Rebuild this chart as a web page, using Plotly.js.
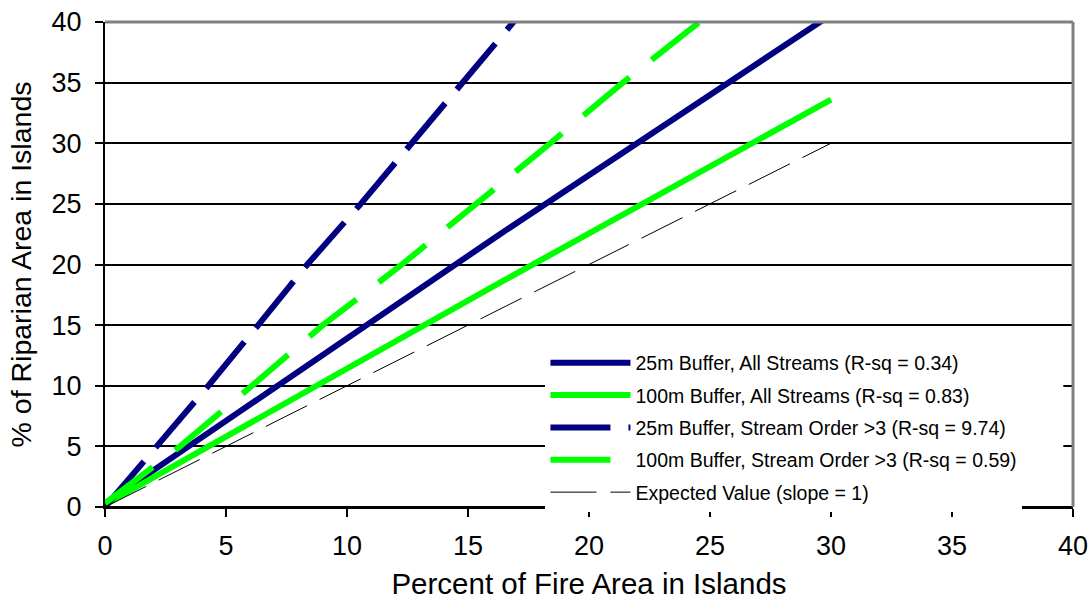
<!DOCTYPE html>
<html>
<head>
<meta charset="utf-8">
<script src="https://cdn.plot.ly/plotly-3.0.1.min.js"></script>
<style>
html,body{margin:0;padding:0;background:#fff;}
#chart{width:1092px;height:603px;}
</style>
</head>
<body>
<div id="chart"></div>
<script>
// Data
const seriesNames = [
  "25m Buffer, All Streams (R-sq = 0.34)",
  "100m Buffer, All Streams (R-sq = 0.83)",
  "25m Buffer, Stream Order >3 (R-sq = 9.74)",
  "100m Buffer, Stream Order >3 (R-sq = 0.59)",
  "Expected Value (slope = 1)"
];
const all25X = [0, 16.32, 30];
const all25Y = [0.3, 22.5, 40.6];
const all100X = [0, 16.32, 30];
const all100Y = [0.2, 18.5, 33.6];
const ord25X = [0, 2.15, 4.27, 6.33, 8.36, 10.57, 12.67, 14.8, 16.86, 17.3];
const ord25Y = [0, 5, 10, 15, 20, 25, 30, 35, 40, 41];
const ord100X = [0, 3.1, 6.07, 9.0, 12.27, 15.37, 18.4, 21.4, 24.6, 25.2];
const ord100Y = [0.3, 5, 10, 15, 20, 25, 30, 35, 40, 41];
const expX = [0, 30];
const expY = [0, 30];
const tickVals = [0, 5, 10, 15, 20, 25, 30, 35, 40];

const navy = "#000080";
const green = "#00ff00";

const traces = [
  {x: all25X, y: all25Y, name: seriesNames[0], mode: "lines", legendgroup: "a",
   line: {color: navy, width: 6}},
  {x: all100X, y: all100Y, name: seriesNames[1], mode: "lines", legendgroup: "b",
   line: {color: green, width: 6}},
  {x: ord25X, y: ord25Y, name: seriesNames[2], mode: "lines", legendgroup: "c",
   line: {color: navy, width: 6, dash: "60px,18px"}},
  {x: ord100X, y: ord100Y, name: seriesNames[3], mode: "lines", legendgroup: "d",
   line: {color: green, width: 6, dash: "60px,28px"}},
  {x: expX, y: expY, name: seriesNames[4], mode: "lines", legendgroup: "e",
   line: {color: "#000000", width: 1, dash: "46px,14px"}}
];

const layout = {
  width: 1092, height: 603,
  margin: {l: 105, r: 19, t: 22, b: 96},
  paper_bgcolor: "#ffffff",
  plot_bgcolor: "#ffffff",
  font: {family: "Arial, 'Liberation Sans', sans-serif", color: "#000"},
  showlegend: true,
  legend: {
    x: 0.455, y: 0.337, xanchor: "left", yanchor: "top",
    bgcolor: "#ffffff", borderwidth: 0,
    font: {size: 19.5, color: "#000"},
    itemwidth: 80,
    traceorder: "grouped",
    tracegroupgap: 4
  },
  xaxis: {
    range: [0, 40], tickvals: tickVals, ticktext: tickVals.map(String),
    showgrid: false, zeroline: false,
    showline: true, linecolor: "#000", linewidth: 2,
    ticks: "outside", ticklen: 8, tickwidth: 2, tickcolor: "#000",
    ticklabelstandoff: 6,
    tickfont: {size: 27},
    title: {text: "Percent of Fire Area in Islands", font: {size: 29.5}, standoff: 13}
  },
  yaxis: {
    range: [0, 40], tickvals: tickVals, ticktext: tickVals.map(String),
    showgrid: true, gridcolor: "#000", gridwidth: 2,
    zeroline: false,
    showline: true, linecolor: "#000", linewidth: 2,
    ticks: "outside", ticklen: 8, tickwidth: 2, tickcolor: "#000",
    ticklabelstandoff: 8,
    tickfont: {size: 27},
    title: {text: "% of Riparian Area in Islands", font: {size: 28.5}, standoff: 12}
  },
  shapes: [
    {type: "rect", xref: "x", yref: "y", x0: 18.2, x1: 39.6, y0: 1.2, y1: 13.5,
     fillcolor: "#ffffff", line: {width: 0}, layer: "above"},
    {type: "line", xref: "paper", yref: "paper", x0: 0, x1: 1, y0: 0, y1: 0,
     line: {color: "#000000", width: 2}, layer: "above"},
    {type: "line", xref: "paper", yref: "paper", x0: 0, x1: 1, y0: 1, y1: 1,
     line: {color: "#808080", width: 3}, layer: "above"},
    {type: "line", xref: "paper", yref: "paper", x0: 1, x1: 1, y0: 0, y1: 1,
     line: {color: "#808080", width: 3}, layer: "above"}
  ]
};

Plotly.newPlot("chart", traces, layout, {staticPlot: true, displayModeBar: false});
</script>
</body>
</html>
